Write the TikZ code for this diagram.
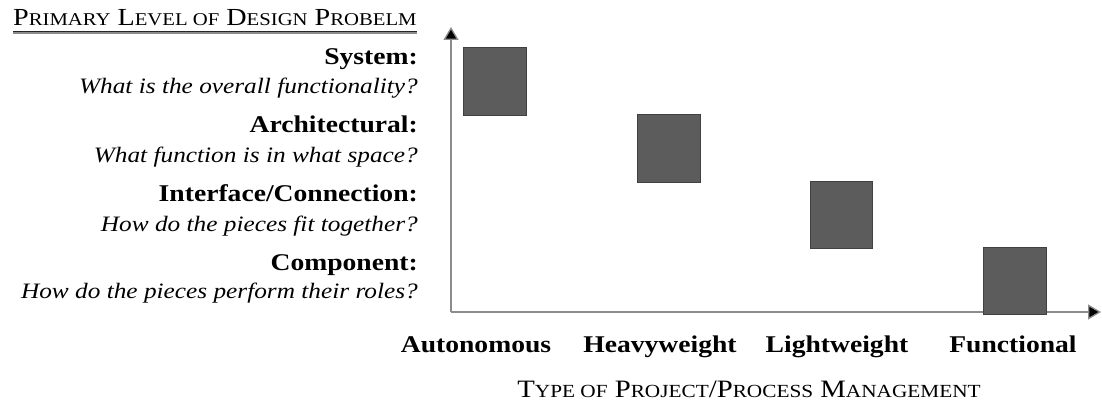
\documentclass[tikz,border=0pt]{standalone}
\usepackage{fontspec}
\setmainfont[FakeStretch=1.15]{Liberation Serif}
\usetikzlibrary{arrows.meta}
% capitals followed by reduced capitals
\newcommand\smallcaps[1]{{\fontsize{18.5}{20}\selectfont #1}}
\newcommand\smallcapsb[1]{{\fontsize{18}{20}\selectfont #1}}
\begin{document}
\begin{tikzpicture}[x=1pt,y=-1pt,
  axis/.style={draw=black!45,line width=1.3pt,-{Triangle[length=13pt,width=15pt,fill=black]}},
  block/.style={draw=black!75,line width=0.6pt,fill=black!64},
  level/.style={anchor=base east,inner sep=0pt,font=\fontsize{24}{26}\selectfont\bfseries},
  question/.style={anchor=base east,inner sep=0pt,font=\fontsize{22}{26}\selectfont\itshape},
  mgmt/.style={anchor=base,inner sep=0pt,font=\fontsize{24}{26}\selectfont\bfseries},
  heading/.style={inner sep=0pt,font=\fontsize{25}{26}\selectfont}]
\useasboundingbox (0,0) rectangle (1102,404);

% axes
\coordinate (origin) at (451,312);
\coordinate (ytip) at (451,27);
\coordinate (xtip) at (1101,312);
\draw[axis] (origin) -- (ytip);
\draw[axis] (origin) -- (xtip);

% blocks, one per project type
\filldraw[block] (463,47) rectangle (526,115);
\filldraw[block] (637,114) rectangle (700,182);
\filldraw[block] (810,181) rectangle (872,248);
\filldraw[block] (983,247) rectangle (1046,314);

% vertical axis heading, underlined
\node[heading,anchor=base west,font=\fontsize{24.5}{26}\selectfont] (vhead) at (13,26)
  {P\smallcapsb{RIMARY} L\smallcapsb{EVEL OF} D\smallcapsb{ESIGN} P\smallcapsb{ROBELM}};
\coordinate (ul1) at (13,31.5);
\draw[black!45,line width=1.6pt] ([yshift=-1.6pt]ul1) -- ([yshift=-1.6pt]vhead.east |- ul1);
\draw[black!85,line width=1.8pt] (ul1) -- (vhead.east |- ul1);

% design levels
\node[level] (sys) at (418,64) {System:};
\node[question] (sysq) at (418,93) {What is the overall functionality?};
\node[level] (arch) at (418,132) {Architectural:};
\node[question] (archq) at (418,162) {What function is in what space?};
\node[level] (intf) at (418,201) {Interface/Connection:};
\node[question] (intfq) at (418,231) {How do the pieces fit together?};
\node[level] (comp) at (418,270) {Component:};
\node[question] (compq) at (418,298) {How do the pieces perform their roles?};

% management types
\node[mgmt] (auto) at (476,352) {Autonomous};
\node[mgmt] (heavy) at (660,352) {Heavyweight};
\node[mgmt] (light) at (837,352) {Lightweight};
\node[mgmt] (func) at (1013,352) {Functional};
\node[heading,anchor=base] (hhead) at (749,397)
  {T\smallcaps{YPE OF} P\smallcaps{ROJECT}/P\smallcaps{ROCESS} M\smallcaps{ANAGEMENT}};
\end{tikzpicture}
\end{document}
